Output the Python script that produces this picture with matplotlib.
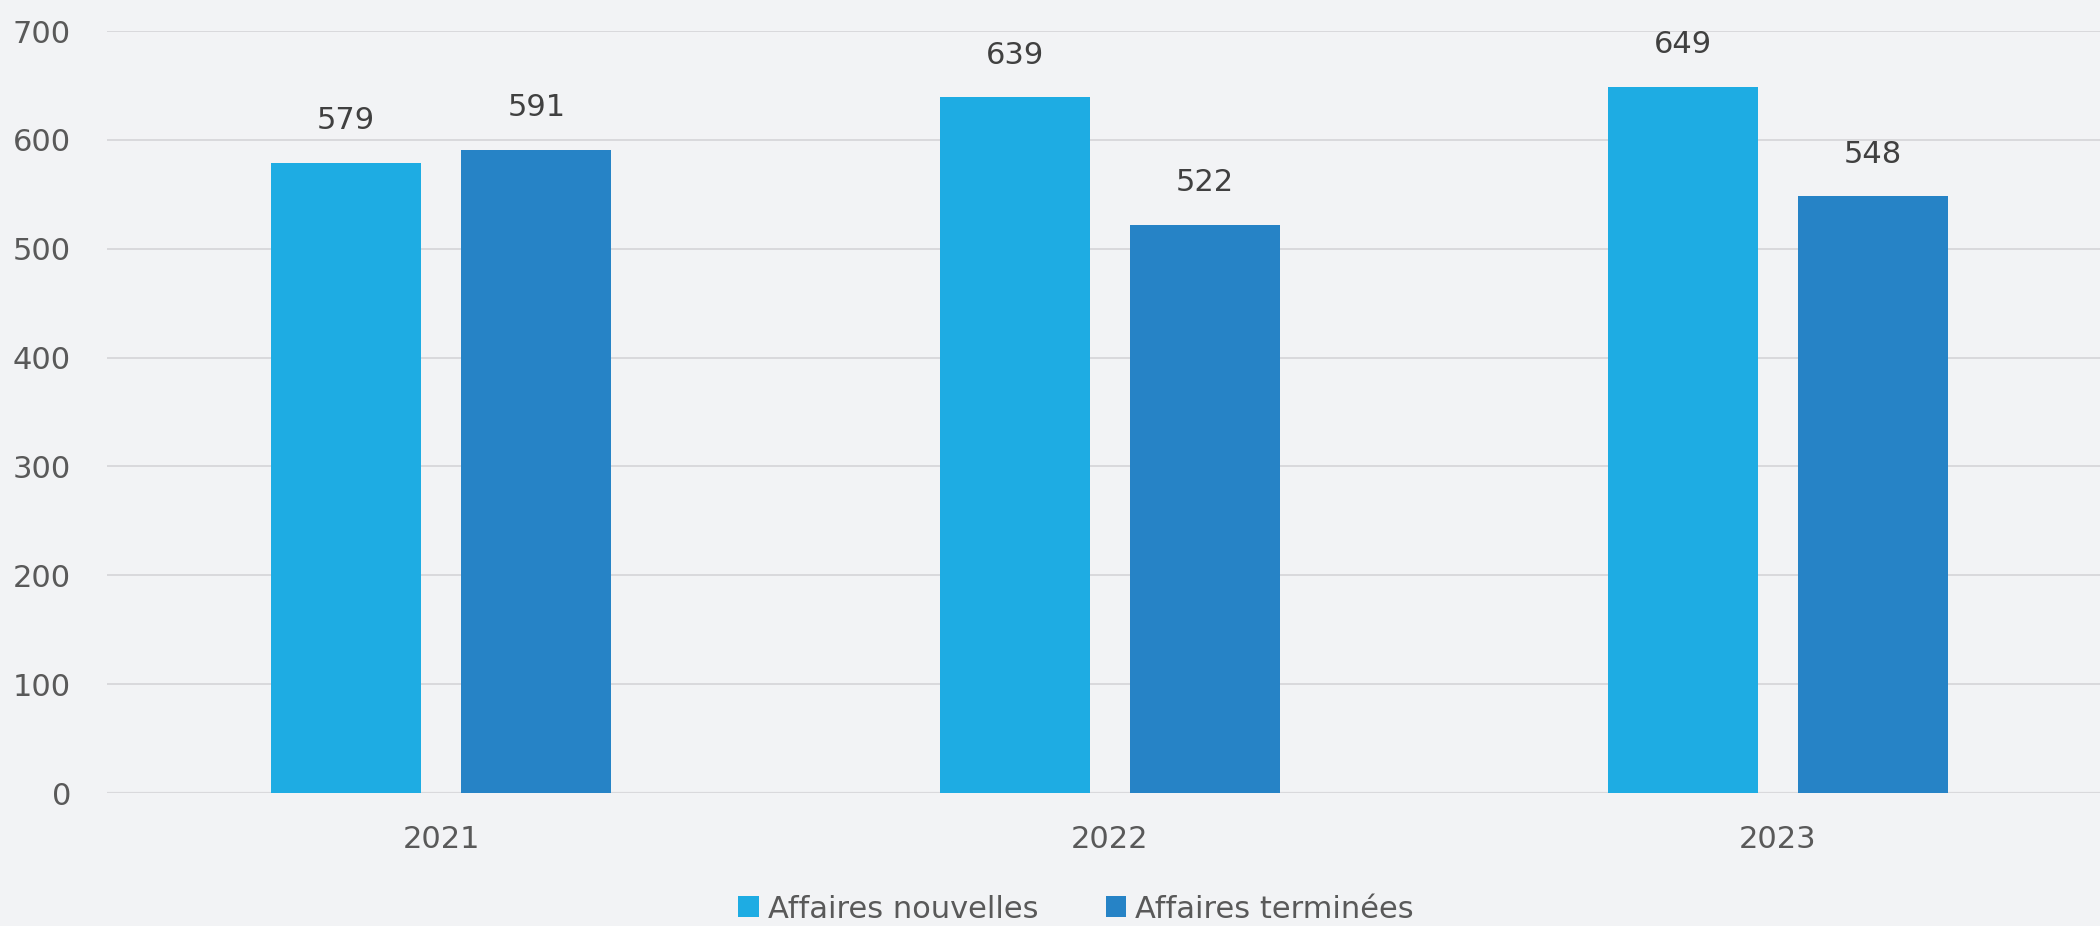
import matplotlib
matplotlib.use("Agg")
import matplotlib.pyplot as plt
import numpy as np

# Data
years = ["2021", "2022", "2023"]
nouvelles = [579, 639, 649]
terminees = [591, 522, 548]
series_names = ["Affaires nouvelles", "Affaires terminées"]
yticks = [0, 100, 200, 300, 400, 500, 600, 700]

bg = "#F2F3F5"
c_light = "#1EACE3"
c_dark = "#2683C6"

plt.rcParams['font.family'] = ['DejaVu Sans']

fig = plt.figure(figsize=(21, 9.26), dpi=100, facecolor=bg)
# axes run a little past the right edge, like the original
ax = fig.add_axes([0.051, 0.1436, 0.9548, 0.8229], facecolor=bg)

x = np.arange(len(years))
w = 0.2244
off = 0.1423
b1 = ax.bar(x - off, nouvelles, w, color=c_light, zorder=3, label=series_names[0])
b2 = ax.bar(x + off, terminees, w, color=c_dark, zorder=3, label=series_names[1])

# value labels above bars
for bars in (b1, b2):
    for rect in bars:
        h = rect.get_height()
        ax.annotate(str(int(h)), (rect.get_x() + rect.get_width() / 2, h),
                    xytext=(0, 24), textcoords="offset points",
                    ha="center", va="baseline", fontsize=22, color="#404040")

ax.set_xlim(-0.5, 2.5)
ax.set_ylim(0, 700)
ax.set_xticks(x)
ax.set_xticklabels(years)
ax.set_yticks(yticks)

ax.grid(axis="y", color="#D9D9DC", linewidth=1.4, zorder=0)
ax.set_axisbelow(True)
for s in ax.spines.values():
    s.set_visible(False)
ax.axhline(0, color="#D9D9DC", linewidth=1.6, zorder=2)

ax.tick_params(axis="x", length=0, pad=23, labelsize=22, labelcolor="#595959")
ax.tick_params(axis="y", length=0, pad=26, labelsize=22, labelcolor="#595959")

fig.legend(handles=[b1, b2], labels=series_names, loc="center",
           bbox_to_anchor=(1076 / 2100, 1 - 909 / 926), ncol=2, frameon=False,
           fontsize=22, labelcolor="#595959", handlelength=0.68, handleheight=0.68,
           handletextpad=0.3, columnspacing=2.2, borderpad=0)

fig.savefig("out.png", dpi=100, facecolor=bg)
